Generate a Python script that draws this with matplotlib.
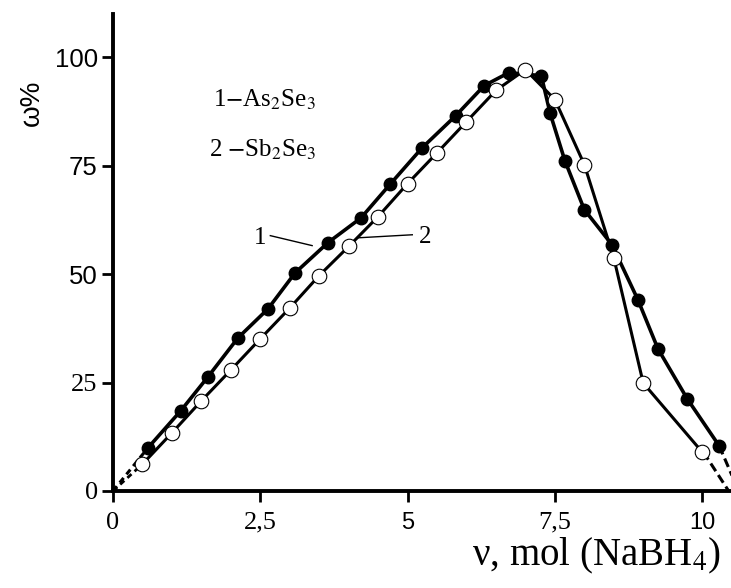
import matplotlib
matplotlib.use("Agg")
import matplotlib.pyplot as plt

plt.rcParams['mathtext.fontset'] = 'stix'

# кривая 1 - As2Se3 (закрашенные точки)
x1 = [0.59, 1.15, 1.61, 2.12, 2.63, 3.09, 3.65, 4.21, 4.70, 5.25, 5.82, 6.30, 6.72,
      7.27, 7.42, 7.67, 8.00, 8.47, 8.91, 9.25, 9.75, 10.29]
y1 = [9.9, 18.5, 26.3, 35.3, 42.0, 50.3, 57.3, 63.0, 70.7, 79.2, 86.6, 93.5, 96.5,
      95.8, 87.1, 76.2, 64.9, 56.8, 44.1, 32.8, 21.2, 10.4]

# кривая 2 - Sb2Se3 (пустые точки)
x2 = [0.5, 1.0, 1.5, 2.0, 2.5, 3.0, 3.5, 4.0, 4.5, 5.0, 5.5, 6.0, 6.5, 7.0,
      7.5, 8.0, 8.5, 9.0, 10.0]
y2 = [6.2, 13.4, 20.8, 27.9, 35.1, 42.2, 49.7, 56.4, 63.3, 70.9, 78.0, 85.2, 92.4, 97.2,
      90.3, 75.3, 53.8, 24.9, 9.0]

# пунктирные продолжения к осям
ext1_x, ext1_y = [10.29, 10.62], [10.4, 0]
ext2_x, ext2_y = [10.02, 10.45], [9.0, 0]

xticks = [0, 2.5, 5, 7.5, 10]
xtick_labels = ['0', '2,5', '5', '7,5', '10']
yticks = [0, 25, 50, 75, 100]
ytick_labels = ['0', '25', '50', '75', '100']

fig = plt.figure(figsize=(7.31, 5.88), dpi=100)
ax = fig.add_axes([0.1546, 0.165, 0.8454, 0.811])

ax.plot([0, x1[0]], [0, y1[0]], color='black', lw=2.2, ls=(0, (2, 1.5)))
ax.plot([0, x2[0]], [0, y2[0]], color='black', lw=2.0, ls=(0, (2, 1.5)))
ax.plot(ext1_x, ext1_y, color='black', lw=2.2, ls=(0, (3, 1.5)), clip_on=True)
ax.plot(ext2_x, ext2_y, color='black', lw=2.2, ls=(0, (3, 1.5)), clip_on=True)

ax.plot(x1, y1, color='black', lw=2.6, marker='o', ms=9, mfc='black', mec='black', zorder=3)
ax.plot(x2, y2, color='black', lw=2.2, marker='o', ms=10.5, mfc='white', mec='black',
        mew=0.8, zorder=4)

ax.set_xlim(0, 10.49)
ax.set_ylim(0, 110)

for s in ['top', 'right']:
    ax.spines[s].set_visible(False)
for s in ['left', 'bottom']:
    ax.spines[s].set_linewidth(2.8)

ax.tick_params(axis='both', direction='out', length=8, width=2, colors='black')
ax.tick_params(axis='y', pad=3)
ax.tick_params(axis='x', pad=7)

serif = 'Liberation Serif'
sans = 'Liberation Sans'
ax.set_xticks(xticks)
ax.set_xticklabels(xtick_labels)
for lab, fam in zip(ax.get_xticklabels(), [serif, serif, sans, serif, sans]):
    lab.set_family(fam)
    lab.set_fontsize(19 if fam == serif else 17)
ax.set_yticks(yticks)
ax.set_yticklabels(ytick_labels)
for lab, fam in zip(ax.get_yticklabels(), [serif, serif, sans, sans, sans]):
    lab.set_family(fam)
    lab.set_fontsize(19 if fam == serif else 18.5)

ax.set_ylabel('ω%', fontsize=20, family=sans)
ax.yaxis.set_label_coords(-0.11, 0.813)
ax.set_xlabel(r'ν, mol (NaBH$_4$)', fontsize=28, family=serif)
ax.xaxis.set_label_coords(0.782, -0.094)

ax.text(1.70, 90.3, r'1$-$As$_2$Se$_3$', fontsize=18, family=serif, va='center')
ax.text(1.63, 78.7, r'2 $-$Sb$_2$Se$_3$', fontsize=18, family=serif, va='center')

# выноски 1 и 2
ax.plot([2.67, 3.38], [58.9, 56.6], color='black', lw=1)
ax.text(2.5, 58.3, '1', fontsize=18, family=serif, ha='center', va='center')
ax.plot([4.16, 5.08], [58.4, 59.1], color='black', lw=1)
ax.text(5.3, 58.6, '2', fontsize=18, family=serif, ha='center', va='center')

fig.savefig('out.png', dpi=100)
